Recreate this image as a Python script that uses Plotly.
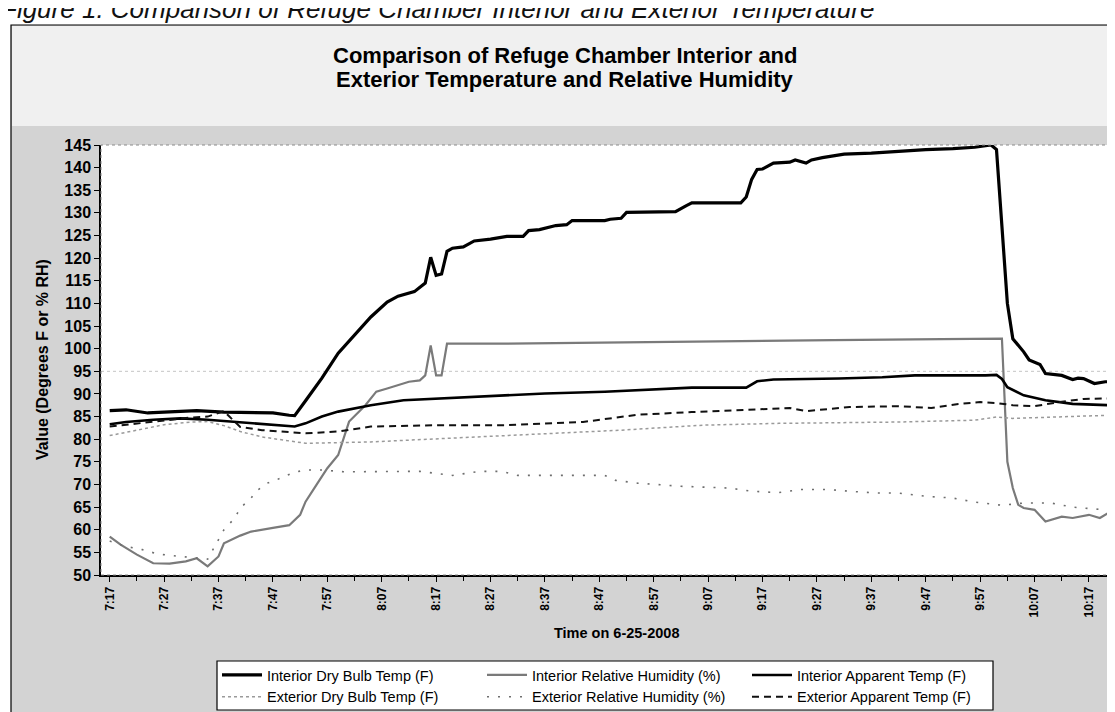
import plotly.graph_objects as go

DATE = "2008-06-25"

# ---------------- data ----------------
idb_t = ["7:17","7:20","7:24","7:28","7:33","7:38","7:43","7:47","7:50","7:51","7:53","7:56","7:59","8:02","8:05","8:08","8:10","8:13","8:15","8:16","8:17","8:18","8:19","8:20","8:22","8:24","8:27","8:30","8:33","8:34","8:36","8:39","8:41","8:42","8:48","8:49","8:51","8:52","9:01","9:03","9:04","9:13","9:14","9:15","9:16","9:17","9:19","9:22","9:23","9:25","9:26","9:28","9:32","9:37","9:42","9:47","9:52","9:56","9:59","10:00","10:01","10:02","10:03","10:05","10:06","10:08","10:09","10:12","10:14","10:15","10:16","10:18","10:20","10:21"]
idb_v = [86.3,86.5,85.8,86.0,86.3,86.0,85.9,85.8,85.3,85.2,88.5,93.5,99.0,103.0,107.0,110.3,111.6,112.6,114.5,120.2,116.2,116.5,121.5,122.2,122.5,123.8,124.2,124.8,124.8,126.1,126.3,127.2,127.4,128.3,128.3,128.6,128.8,130.1,130.3,131.6,132.2,132.2,133.5,137.4,139.6,139.7,141.0,141.2,141.7,141.0,141.7,142.2,143.0,143.2,143.6,144.0,144.2,144.5,145.0,144.0,127.0,110.0,102.2,99.3,97.5,96.5,94.5,94.1,93.2,93.5,93.4,92.3,92.7,92.7]

irh_t = ["7:17","7:19","7:22","7:25","7:28","7:31","7:33","7:35","7:37","7:38","7:41","7:43","7:47","7:50","7:52","7:53","7:55","7:57","7:59","8:00","8:01","8:04","8:06","8:08","8:12","8:14","8:15","8:16","8:17","8:18","8:19","8:30","8:50","9:10","9:30","9:50","10:01","10:02","10:03","10:04","10:05","10:07","10:09","10:12","10:14","10:17","10:19","10:21"]
irh_v = [58.5,56.7,54.5,52.6,52.5,53.0,53.7,51.9,54.1,57.0,58.7,59.6,60.4,61.0,63.3,66.2,69.9,73.6,76.5,80.2,83.9,87.5,90.5,91.2,92.7,93.0,94.1,100.7,94.1,94.1,101.1,101.1,101.4,101.7,101.9,102.1,102.2,75.0,69.2,65.5,64.8,64.4,61.8,62.9,62.6,63.3,62.6,64.0]

iat_t = ["7:17","7:20","7:25","7:30","7:35","7:40","7:44","7:48","7:51","7:53","7:56","7:59","8:05","8:11","8:30","8:37","8:48","9:04","9:14","9:16","9:19","9:31","9:39","9:45","9:58","10:00","10:01","10:02","10:05","10:09","10:14","10:21"]
iat_v = [83.3,83.8,84.3,84.6,84.3,83.8,83.5,83.0,82.8,83.5,85.0,86.1,87.5,88.6,89.6,90.1,90.5,91.4,91.4,92.8,93.2,93.4,93.7,94.1,94.1,94.2,93.3,91.5,89.7,88.6,87.8,87.5]

edb_t = ["7:17","7:22","7:27","7:32","7:35","7:38","7:41","7:45","7:53","8:05","8:30","8:51","9:06","9:20","9:42","9:56","10:00","10:03","10:21"]
edb_v = [80.8,82.0,83.2,83.8,83.9,83.0,81.7,80.5,79.1,79.4,80.9,82.0,83.1,83.5,83.8,84.2,84.9,84.6,85.3]

erh_t = ["7:17","7:20","7:23","7:26","7:30","7:33","7:35","7:38","7:40","7:41","7:43","7:44","7:46","7:48","7:51","7:53","7:56","8:00","8:14","8:20","8:25","8:29","8:32","8:39","8:48","8:50","8:54","9:02","9:06","9:11","9:15","9:20","9:24","9:29","9:33","9:38","9:42","9:47","9:52","9:56","10:01","10:05","10:10","10:14","10:19","10:21"]
erh_v = [57.5,56.3,55.6,54.6,54.1,53.7,53.5,60.0,62.6,64.8,67.0,68.6,70.3,71.2,72.7,73.2,73.2,72.8,72.9,72.0,72.9,72.9,72.0,72.0,72.0,70.9,70.3,69.6,69.4,69.2,68.5,68.2,68.9,68.9,68.5,68.1,68.1,67.4,67.0,66.1,65.4,65.9,65.9,65.0,64.5,64.3]

eat_t = ["7:17","7:22","7:27","7:32","7:35","7:38","7:39","7:41","7:45","7:53","7:59","8:05","8:18","8:30","8:44","8:54","9:04","9:16","9:22","9:25","9:33","9:42","9:48","9:53","9:57","10:00","10:03","10:07","10:12","10:16","10:21"]
eat_v = [82.8,83.5,84.2,84.8,85.0,86.2,85.0,82.7,82.0,81.3,81.7,82.8,83.1,83.1,83.8,85.4,86.0,86.7,86.9,86.2,87.1,87.3,86.9,87.8,88.2,88.0,87.5,87.3,88.3,88.9,89.0]

tick_labels = ["7:17","7:27","7:37","7:47","7:57","8:07","8:17","8:27","8:37","8:47",
               "8:57","9:07","9:17","9:27","9:37","9:47","9:57","10:07","10:17"]

series_names = ["Interior Dry Bulb Temp (F)", "Interior Relative Humidity (%)",
                "Interior Apparent Temp (F)", "Exterior Dry Bulb Temp (F)",
                "Exterior Relative Humidity (%)", "Exterior Apparent Temp (F)"]

title_lines = ["Comparison of Refuge Chamber Interior and",
               "Exterior Temperature and Relative Humidity"]


def ts(hm):
    h, m = hm.split(":")
    return f"{DATE} {int(h):02d}:{m}:00"


FONT = "Arial, Liberation Sans, sans-serif"

styles = [
    dict(color="#000000", width=3.2),
    dict(color="#7a7a7a", width=2.2),
    dict(color="#000000", width=2.6),
    dict(color="#9a9a9a", width=1.5, dash="dot"),
    dict(color="#6e6e6e", width=1.6, dash="2px,9px"),
    dict(color="#111111", width=2.0, dash="7px,5px"),
]
data = [(idb_t, idb_v), (irh_t, irh_v), (iat_t, iat_v),
        (edb_t, edb_v), (erh_t, erh_v), (eat_t, eat_v)]

fig = go.Figure()
for name, (tt, vv), st in zip(series_names, data, styles):
    fig.add_trace(go.Scatter(x=[ts(t) for t in tt], y=vv, mode="lines",
                             name=name, line=st))

W, H = 1115, 712
L, R, T, B = 93, 9, 137, 145
pw, ph = W - L - R, H - T - B


def px(xp):
    return (xp - L) / pw


def py(yp):
    return (H - B - yp) / ph


shapes = [
    # gray chart-area background and frame
    dict(type="rect", xref="paper", yref="paper", x0=px(3), x1=px(1111), y0=py(707), y1=py(17),
         fillcolor="#d3d3d3", line=dict(color="#000000", width=1.2), layer="below"),
    dict(type="rect", xref="paper", yref="paper", x0=px(4), x1=px(1110), y0=py(118), y1=py(18),
         fillcolor="#f0f0f0", line=dict(width=0), layer="below"),
    # white plot area
    dict(type="rect", xref="paper", yref="paper", x0=0, x1=1, y0=0, y1=1,
         fillcolor="#ffffff", line=dict(width=0), layer="below"),
    # faint gridline
    dict(type="line", xref="paper", yref="y", x0=0, x1=1, y0=95, y1=95,
         line=dict(color="#c4c4c4", width=1, dash="dot"), layer="below"),
    # plot-area outline (top / right)
    dict(type="rect", xref="paper", yref="paper", x0=0, x1=1, y0=0, y1=1,
         fillcolor="rgba(0,0,0,0)", line=dict(color="#8a8a8a", width=1, dash="dot")),
    # legend box
    dict(type="rect", xref="paper", yref="paper", x0=px(209), x1=px(985), y0=py(702), y1=py(653),
         fillcolor="#ffffff", line=dict(color="#000000", width=1.2), layer="below"),
]

annotations = [
    dict(text="<i>Figure 1. Comparison of Refuge Chamber Interior and Exterior Temperature</i>",
         xref="paper", yref="paper", x=px(-9), y=py(1), xanchor="left", yanchor="middle",
         showarrow=False, font=dict(family=FONT, size=26, color="#111")),
    dict(text="<b>" + title_lines[0] + "</b>", xref="paper", yref="paper",
         x=px(557), y=py(47), xanchor="center", yanchor="middle", showarrow=False,
         font=dict(family=FONT, size=22, color="#000")),
    dict(text="<b>" + title_lines[1] + "</b>", xref="paper", yref="paper",
         x=px(557), y=py(72), xanchor="center", yanchor="middle", showarrow=False,
         font=dict(family=FONT, size=22, color="#000")),
    dict(text="<b>Value (Degrees F or % RH)</b>", xref="paper", yref="paper",
         x=px(34), y=0.5, xanchor="center", yanchor="middle", textangle=-90, showarrow=False,
         font=dict(family=FONT, size=16, color="#000")),
    dict(text="<b>Time on 6-25-2008</b>", xref="paper", yref="paper",
         x=px(608), y=py(625), xanchor="center", yanchor="middle", showarrow=False,
         font=dict(family=FONT, size=14.5, color="#000")),
]

fig.update_layout(
    width=W, height=H,
    margin=dict(l=L, r=R, t=T, b=B, autoexpand=False),
    paper_bgcolor="#ffffff", plot_bgcolor="#ffffff",
    font=dict(family=FONT, color="#000"),
    shapes=shapes, annotations=annotations,
    showlegend=True,
    legend=dict(orientation="h", x=px(209), y=py(651), xanchor="left", yanchor="top",
                bgcolor="rgba(0,0,0,0)", borderwidth=0,
                entrywidth=210, itemwidth=40, traceorder="normal",
                font=dict(family=FONT, size=14.5, color="#000")),
)

fig.update_xaxes(
    type="date",
    range=["2008-06-25 07:15:24", "2008-06-25 10:21:36"],
    tickmode="array", tickvals=[ts(t) for t in tick_labels], ticktext=tick_labels,
    tickangle=-90, tickfont=dict(family=FONT, size=12, color="#000", weight="bold"),
    ticks="outside", ticklen=5, tickcolor="#000",
    minor=dict(dtick=300000, tick0="2008-06-25 07:17:00", ticks="outside", ticklen=4, tickcolor="#000"),
    showline=True, linecolor="#000", linewidth=2, showgrid=False, zeroline=False,
)
fig.update_yaxes(
    range=[50, 145], dtick=5, tick0=50,
    tickfont=dict(family=FONT, size=16, color="#000", weight="bold"),
    ticks="outside", ticklen=5, tickcolor="#000",
    showline=True, linecolor="#000", linewidth=1.5, showgrid=False, zeroline=False,
)

fig.write_html("out.html")
